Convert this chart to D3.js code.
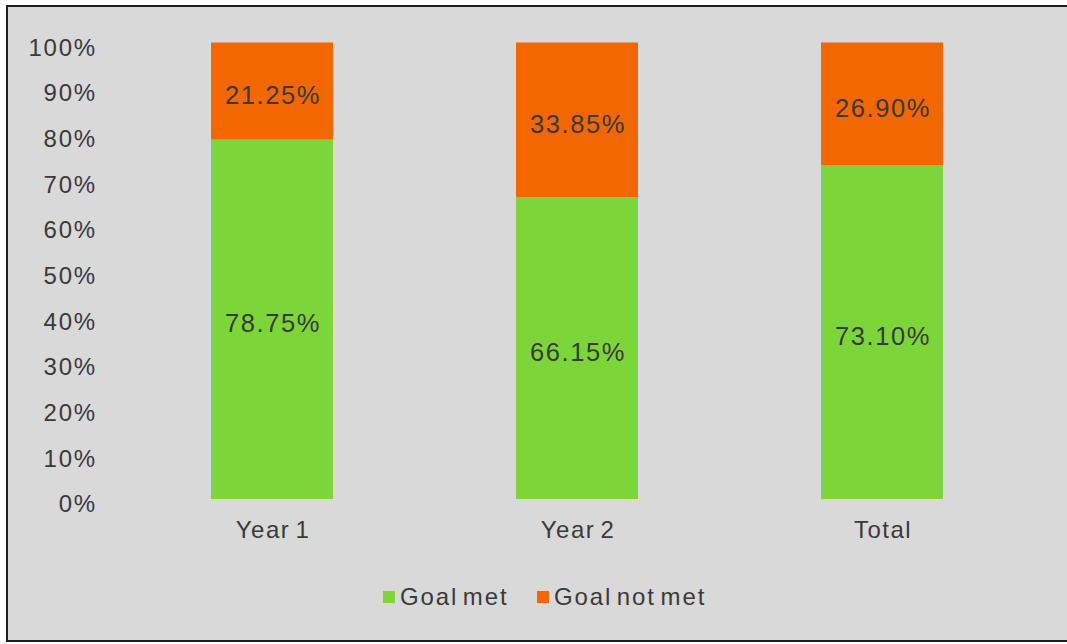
<!DOCTYPE html>
<html>
<head>
<meta charset="utf-8">
<script src="https://cdn.jsdelivr.net/npm/d3@7/dist/d3.min.js"></script>
<style>
  html, body { margin: 0; padding: 0; background: #ffffff; }
  svg { display: block; }
  text { font-family: "Liberation Sans", Arial, sans-serif; }
</style>
</head>
<body>
<svg id="chart" width="1067" height="644"></svg>
<script>
// Share of participants meeting their goal, by period
const categories = ["Year 1", "Year 2", "Total"];
const goalMet = [78.75, 66.15, 73.10];
const goalNotMet = [21.25, 33.85, 26.90];
const seriesNames = ["Goal met", "Goal not met"];
const tickValues = [0, 10, 20, 30, 40, 50, 60, 70, 80, 90, 100];

const colors = { "Goal met": "#7cd63a", "Goal not met": "#f26700" };
const textColor = "#3a3a3a";

const svg = d3.select("#chart");

// Panel background and frame
svg.append("rect")
  .attr("x", 7).attr("y", 6)
  .attr("width", 1075).attr("height", 635)
  .attr("fill", "#d9d9d9")
  .attr("stroke", "#1e1e1e")
  .attr("stroke-width", 2);

const x = d3.scaleBand()
  .domain(categories)
  .range([119.5, 1034.5])
  .paddingInner(0.6)
  .paddingOuter(0.3);

const y = d3.scaleLinear().domain([0, 100]).range([499, 42.5]);

const rows = categories.map((c, i) => ({ category: c, "Goal met": goalMet[i], "Goal not met": goalNotMet[i] }));
const stacked = d3.stack().keys(seriesNames)(rows);

// Stacked bars
const layers = svg.append("g").selectAll("g")
  .data(stacked)
  .join("g")
  .attr("fill", d => colors[d.key]);

layers.selectAll("rect")
  .data(d => d)
  .join("rect")
  .attr("x", d => x(d.data.category))
  .attr("width", x.bandwidth())
  .attr("y", d => y(d[1]))
  .attr("height", d => y(d[0]) - y(d[1]));

// Segment value labels
layers.selectAll("text")
  .data(d => d.map(s => ({ s, key: d.key })))
  .join("text")
  .attr("x", d => x(d.s.data.category) + x.bandwidth() / 2 + 1)
  .attr("y", d => (y(d.s[0]) + y(d.s[1])) / 2 + 4)
  .attr("dy", "0.35em")
  .attr("text-anchor", "middle")
  .attr("fill", textColor)
  .attr("font-size", 25.5)
  .attr("letter-spacing", 1.6)
  .text(d => d3.format(".2f")(d.s.data[d.key]) + "%");

// Y axis (labels only)
const yAxis = d3.axisLeft(y)
  .tickValues(tickValues)
  .tickFormat(d => d + "%")
  .tickSize(0)
  .tickPadding(0);

const yg = svg.append("g")
  .attr("transform", "translate(97,5)")
  .call(yAxis);
yg.select(".domain").remove();
yg.selectAll("text")
  .attr("fill", textColor)
  .attr("font-size", 24)
  .attr("letter-spacing", 1.8)
  .attr("font-family", "Liberation Sans, Arial, sans-serif");

// X axis (labels only)
const xAxis = d3.axisBottom(x).tickSize(0).tickPadding(0);
const xg = svg.append("g")
  .attr("transform", "translate(1,521)")
  .call(xAxis);
xg.select(".domain").remove();
xg.selectAll("text")
  .attr("fill", textColor)
  .attr("font-size", 24)
  .attr("letter-spacing", 1.5)
  .attr("word-spacing", -3)
  .attr("font-family", "Liberation Sans, Arial, sans-serif");

// Legend
const legendItems = [
  { name: seriesNames[0], sx: 383 },
  { name: seriesNames[1], sx: 537 }
];
const legend = svg.append("g").selectAll("g")
  .data(legendItems)
  .join("g")
  .attr("transform", d => `translate(${d.sx},591)`);
legend.append("rect")
  .attr("width", 12).attr("height", 12)
  .attr("fill", d => colors[d.name]);
legend.append("text")
  .attr("x", 17).attr("y", 6)
  .attr("dy", "0.35em")
  .attr("fill", textColor)
  .attr("font-size", 24)
  .attr("letter-spacing", 1.9)
  .attr("word-spacing", -4)
  .text(d => d.name);
</script>
</body>
</html>
